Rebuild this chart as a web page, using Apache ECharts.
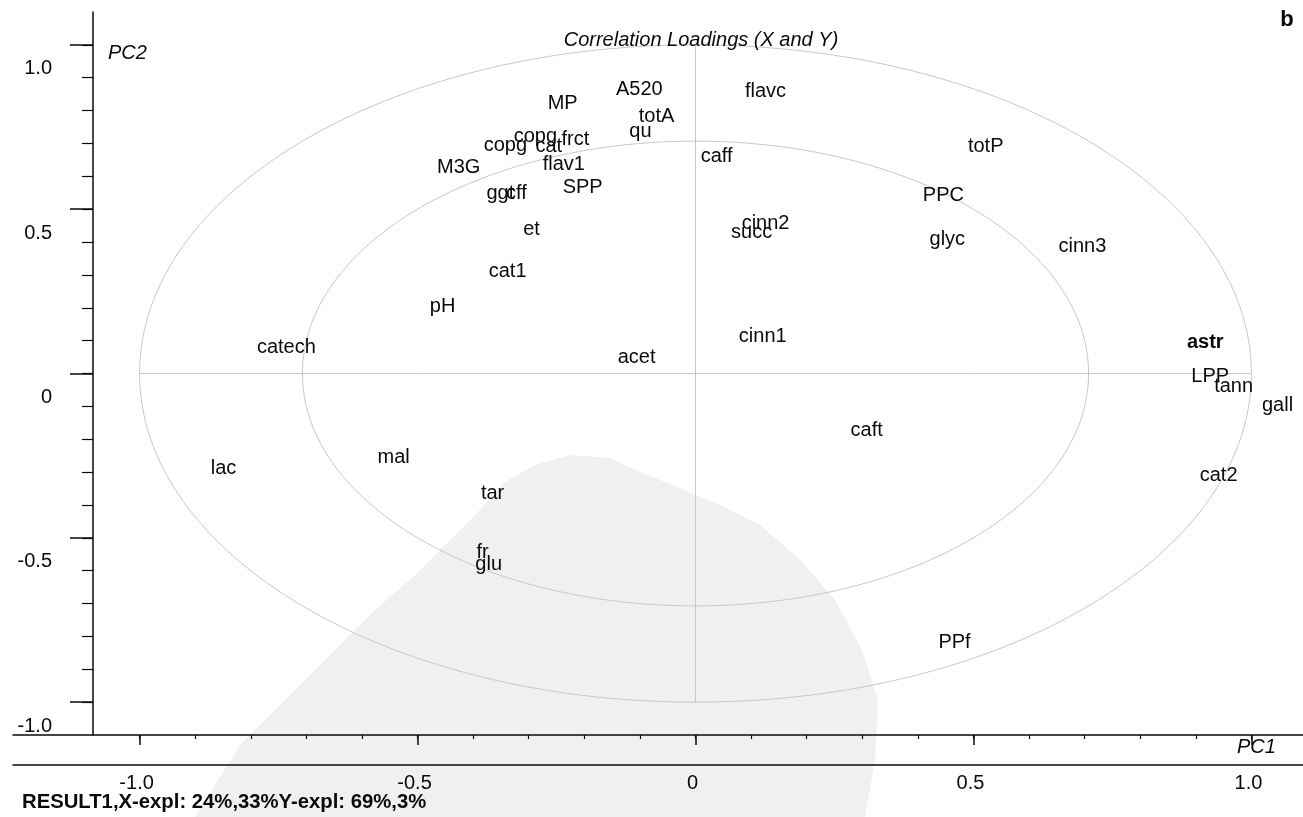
<!DOCTYPE html>
<html>
<head>
<meta charset="utf-8">
<title>Correlation Loadings (X and Y)</title>
<script src="https://cdn.jsdelivr.net/npm/echarts@6/dist/echarts.min.js"></script>
<style>
  html, body { margin: 0; padding: 0; background: #ffffff; }
  #chart { width: 1303px; height: 817px; }
</style>
</head>
<body>
<div id="chart"></div>
<script>
// Variable names and their correlation loadings on PC1 / PC2
const names = ['A520', 'MP', 'flavc', 'totA', 'qu', 'copg', 'copg', 'cat', 'frct', 'flav1',
  'M3G', 'ggt', 'cff', 'SPP', 'et', 'cat1', 'pH', 'catech', 'acet', 'caff',
  'cinn2', 'succ', 'cinn1', 'totP', 'PPC', 'glyc', 'cinn3', 'astr', 'LPP', 'tann',
  'gall', 'caft', 'cat2', 'PPf', 'lac', 'mal', 'tar', 'fr', 'glu'];
const pc1 = [-0.101, -0.239, 0.126, -0.070, -0.099, -0.342, -0.288, -0.264, -0.216, -0.237,
  -0.426, -0.351, -0.322, -0.203, -0.295, -0.338, -0.455, -0.736, -0.106, 0.038,
  0.126, 0.101, 0.121, 0.522, 0.446, 0.453, 0.696, 0.917, 0.926, 0.968,
  1.047, 0.308, 0.941, 0.466, -0.849, -0.543, -0.365, -0.383, -0.372];
const pc2 = [0.863, 0.823, 0.857, 0.781, 0.735, 0.695, 0.720, 0.692, 0.713, 0.637,
  0.628, 0.549, 0.549, 0.565, 0.437, 0.309, 0.205, 0.078, 0.050, 0.659,
  0.455, 0.428, 0.114, 0.692, 0.543, 0.409, 0.385, 0.093, -0.008, -0.041,
  -0.096, -0.172, -0.309, -0.820, -0.288, -0.257, -0.364, -0.546, -0.580];
const boldNames = ['astr'];

// Axis ticks and labels
const majorTicks = [-1.0, -0.5, 0, 0.5, 1.0];
const majorLabels = ['-1.0', '-0.5', '0', '0.5', '1.0'];
const minorTicks = [-1.0, -0.9, -0.8, -0.7, -0.6, -0.5, -0.4, -0.3, -0.2, -0.1, 0,
  0.1, 0.2, 0.3, 0.4, 0.5, 0.6, 0.7, 0.8, 0.9, 1.0];
const axisRange = [-1.1, 1.1];

// Correlation circles: 100% and 50% explained variance
const circleRadii = [1.0, 0.7071];

const FONT = "'Liberation Sans', Arial, sans-serif";
const INK = '#0a0a0a';
const GUIDE = '#c8c8c8';

function tickLabel(v) {
  const i = majorTicks.findIndex(t => Math.abs(t - v) < 1e-9);
  return i >= 0 ? majorLabels[i] : '';
}

const points = names.map((n, i) => ({
  name: n,
  value: [pc1[i], pc2[i]],
  label: { fontWeight: boldNames.indexOf(n) >= 0 ? 'bold' : 'normal' }
}));

const chart = echarts.init(document.getElementById('chart'), null, { renderer: 'canvas' });

const lineOff = { show: false, onZero: false };

const option = {
  animation: false,
  backgroundColor: '#ffffff',
  grid: [
    { left: 84, right: -4, top: 12, bottom: 82, outerBoundsMode: 'none', containLabel: false },
    { left: 13, right: 0, top: 12, bottom: 82, outerBoundsMode: 'none', containLabel: false }
  ],
  xAxis: [
    { // major ticks + labels
      type: 'value', gridIndex: 0, position: 'bottom', min: axisRange[0], max: axisRange[1],
      axisLine: lineOff,
      axisTick: { show: true, customValues: majorTicks, length: 10, lineStyle: { color: INK, width: 1.5 } },
      axisLabel: { show: true, customValues: majorTicks, formatter: tickLabel, margin: 38,
        color: INK, fontSize: 20, fontFamily: FONT, padding: [0, 6, 0, 0] },
      splitLine: { show: false }
    },
    { // minor ticks
      type: 'value', gridIndex: 0, position: 'bottom', min: axisRange[0], max: axisRange[1],
      axisLine: lineOff,
      axisTick: { show: true, customValues: minorTicks, length: 4, lineStyle: { color: INK, width: 1.2 } },
      axisLabel: { show: false },
      splitLine: { show: false }
    },
    { // full-width axis line
      type: 'value', gridIndex: 1, position: 'bottom', min: 0, max: 1,
      axisLine: { show: true, onZero: false, lineStyle: { color: INK, width: 1.5 } },
      axisTick: { show: false }, axisLabel: { show: false }, splitLine: { show: false }
    },
    { // lower rule
      type: 'value', gridIndex: 1, position: 'bottom', min: 0, max: 1, offset: 30,
      axisLine: { show: true, onZero: false, lineStyle: { color: INK, width: 1.5 } },
      axisTick: { show: false }, axisLabel: { show: false }, splitLine: { show: false }
    }
  ],
  yAxis: [
    {
      type: 'value', gridIndex: 0, position: 'left', min: axisRange[0], max: axisRange[1], offset: -9,
      axisLine: { show: true, onZero: false, lineStyle: { color: INK, width: 1.5 } },
      axisTick: { show: true, customValues: majorTicks, length: 23, lineStyle: { color: INK, width: 1.5 } },
      axisLabel: { show: true, customValues: majorTicks, formatter: tickLabel, margin: 41,
        color: INK, fontSize: 20, fontFamily: FONT, verticalAlign: 'top', padding: [14, 0, 0, 0] },
      splitLine: { show: false }
    },
    {
      type: 'value', gridIndex: 0, position: 'left', min: axisRange[0], max: axisRange[1], offset: -9,
      axisLine: lineOff,
      axisTick: { show: true, customValues: minorTicks, length: 11, lineStyle: { color: INK, width: 1.2 } },
      axisLabel: { show: false },
      splitLine: { show: false }
    },
    {
      type: 'value', gridIndex: 1, position: 'left', min: 0, max: 1, show: false,
      axisLine: lineOff
    }
  ],
  series: [
    {
      type: 'scatter',
      xAxisIndex: 0, yAxisIndex: 0,
      symbol: 'circle', symbolSize: 0,
      itemStyle: { color: INK },
      z: 5,
      label: {
        show: true, position: 'inside', formatter: '{b}',
        color: INK, fontSize: 20, fontFamily: FONT,
        textBorderWidth: 0, opacity: 1
      },
      emphasis: { disabled: true },
      data: points,
      markLine: {
        silent: true, symbol: ['none', 'none'], animation: false,
        label: { show: false },
        lineStyle: { color: GUIDE, type: 'solid', width: 1 },
        data: [
          [{ coord: [-1, 0] }, { coord: [1, 0] }],
          [{ coord: [0, -1] }, { coord: [0, 1] }]
        ]
      }
    }
  ]
};

chart.setOption(option);

// Guides and texts placed through the chart's own coordinate conversion
const toPx = p => chart.convertToPixel({ seriesIndex: 0 }, p);
const c0 = toPx([0, 0]);
const circles = circleRadii.map(r => {
  const e = toPx([r, r]);
  return {
    type: 'ellipse', silent: true, z: 1,
    shape: { cx: c0[0], cy: c0[1], rx: e[0] - c0[0], ry: c0[1] - e[1] },
    style: { fill: null, stroke: GUIDE, lineWidth: 1 }
  };
});

// light scanner haze in the lower middle
const haze = {
  type: 'polygon', silent: true, z: -1,
  shape: { points: [[195, 817], [215, 785], [240, 745], [285, 700], [335, 650], [375, 610], [415, 575],
    [445, 545], [475, 515], [505, 482], [535, 465], [570, 455], [610, 458], [640, 472], [680, 488],
    [720, 505], [760, 525], [800, 560], [835, 600], [862, 650], [878, 700], [875, 760], [865, 817]] },
  style: { fill: '#f0f0f0' }
};

const texts = [
  { type: 'text', x: 701, y: 40, z: 10, style: { text: 'Correlation Loadings (X and Y)', fontSize: 20, fontStyle: 'italic',
      fontFamily: FONT, fill: INK, align: 'center', verticalAlign: 'middle' } },
  { type: 'text', x: 108, y: 53, z: 10, style: { text: 'PC2', fontSize: 20, fontStyle: 'italic',
      fontFamily: FONT, fill: INK, align: 'left', verticalAlign: 'middle' } },
  { type: 'text', x: 1237, y: 747, z: 10, style: { text: 'PC1', fontSize: 20, fontStyle: 'italic',
      fontFamily: FONT, fill: INK, align: 'left', verticalAlign: 'middle' } },
  { type: 'text', x: 1287, y: 20, z: 10, style: { text: 'b', fontSize: 22, fontWeight: 'bold',
      fontFamily: FONT, fill: INK, align: 'center', verticalAlign: 'middle' } },
  { type: 'text', x: 22, y: 802, z: 10, style: { text: 'RESULT1,X-expl: 24%,33%Y-expl: 69%,3%', fontSize: 20.3,
      fontWeight: 'bold', fontFamily: FONT, fill: INK, align: 'left', verticalAlign: 'middle' } }
];

chart.setOption({ graphic: { elements: [haze].concat(circles, texts) } });
</script>
</body>
</html>
